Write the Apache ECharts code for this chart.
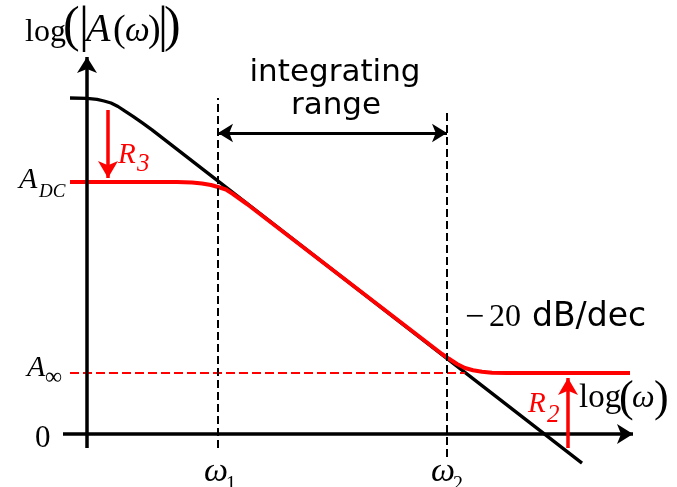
<!DOCTYPE html>
<html>
<head>
<meta charset="utf-8">
<script src="https://cdn.jsdelivr.net/npm/echarts@6/dist/echarts.min.js"></script>
<style>
  html, body { margin: 0; padding: 0; background: #fff; }
  #main { width: 677px; height: 487px; }
</style>
</head>
<body>
<div id="main"></div>
<script>
// levels and corner frequencies (chart units, log scale both ways)
const A_TOP = 336;
const A_DC = 252;
const A_INF = 61;
const W1 = 131;
const W2 = 360;

// black: original response, -20 dB/dec all the way down
const blackCurve = [
  [-17, 336], [0, 335.7], [10, 334.6], [17, 333], [24, 331], [31, 327.5],
  [38, 322.8], [46, 317.6], [55, 311.3], [65, 304.1], [495, -29.1]
];
// red: response with R3 / R2, flat at A_DC and A_INF
const redCurve = [
  [-17, 252], [90, 252], [105, 251.5], [115, 250.5], [124, 249], [131, 247],
  [139, 244.5], [146, 240], [153, 235], [160, 230], [355, 80], [362, 75.2],
  [370, 70], [378, 66], [386, 63.8], [395, 62.2], [405, 61.3], [420, 61], [543, 61]
];

const serif = '"Liberation Serif", "Times New Roman", serif';
const sans = '"DejaVu Sans", Verdana, sans-serif';

// text helper, b = baseline in px
function t(text, x, b, size, opts) {
  opts = opts || {};
  return {
    type: 'text',
    x: x,
    y: b - 0.3 * size,
    silent: true,
    style: {
      text: text,
      fontSize: size,
      fontFamily: opts.family || serif,
      fontStyle: opts.italic ? 'italic' : 'normal',
      fill: opts.color || '#000',
      textAlign: opts.align || 'left',
      textVerticalAlign: 'middle'
    }
  };
}

function seg(x1, y1, x2, y2, color, type, width, s1, s2, size) {
  size = size || [15, 16];
  return [
    { coord: [x1, y1], symbol: s1 || 'none', symbolSize: size },
    { coord: [x2, y2], symbol: s2 || 'none', symbolSize: size,
      lineStyle: { color: color, type: type, width: width } }
  ];
}

const red = '#ff0000';

const option = {
  animation: false,
  grid: { left: 63, right: 44, top: 57, bottom: 24 },
  xAxis: { type: 'value', min: -24, max: 546, show: false },
  yAxis: { type: 'value', min: -29, max: 377, show: false },
  series: [
    {
      type: 'line',
      data: blackCurve,
      showSymbol: false,
      lineStyle: { color: '#000', width: 3.3 },
      markLine: {
        silent: true,
        label: { show: false },
        symbol: ['none', 'none'],
        data: [
          seg(-17, A_INF, 378, A_INF, red, [9, 4], 2),
          seg(W1, -14, W1, A_TOP, '#000', [8, 4], 2),
          seg(W2, -23, W2, 324, '#000', [8, 4], 2),
          seg(-24, 0, 546, 0, '#000', 'solid', 3.5, 'none', 'arrow', [15, 16]),
          seg(0, -14, 0, 377, '#000', 'solid', 3.5, 'none', 'arrow', [15, 16]),
          seg(W1, 301, W2, 301, '#000', 'solid', 3, 'arrow', 'arrow', [14, 15]),
          seg(21, 324, 21, 256, red, 'solid', 3.5, 'none', 'arrow', [15, 17]),
          seg(481, -14, 481, 56, red, 'solid', 3.5, 'none', 'arrow', [15, 17])
        ]
      }
    },
    {
      type: 'line',
      data: redCurve,
      showSymbol: false,
      lineStyle: { color: red, width: 4 }
    }
  ],
  graphic: [
    // y axis title log(|A(ω)|)
    t('log', 25, 42, 32),
    t('(', 63, 43, 50),
    t('|', 79, 43, 50),
    t('A', 86, 42, 40, { italic: true }),
    t('(', 113, 42, 38),
    t('ω', 125, 42, 35, { italic: true }),
    t(')', 148, 42, 38),
    t('|', 158, 43, 50),
    t(')', 164, 43, 50),
    // levels
    t('A', 19, 189, 30, { italic: true }),
    t('DC', 39, 198, 19, { italic: true }),
    t('A', 27, 377, 30, { italic: true }),
    t('∞', 45, 385, 24),
    t('0', 35, 448, 31),
    // frequencies
    t('ω', 204, 482, 34, { italic: true }),
    t('1', 226, 491, 20),
    t('ω', 431, 482, 34, { italic: true }),
    t('2', 453, 491, 20),
    // x axis title
    t('log', 579, 408, 33),
    t('(', 619, 413, 44),
    t('ω', 632, 408, 32, { italic: true }),
    t(')', 654, 413, 44),
    // resistor labels
    t('R', 118, 164, 29, { italic: true, color: red }),
    t('3', 137, 172, 25, { italic: true, color: red }),
    t('R', 528, 413, 29, { italic: true, color: red }),
    t('2', 547, 423, 25, { italic: true, color: red }),
    // slope
    t('−', 465, 328, 34),
    t('20', 489, 327, 32),
    t('dB/dec', 532, 327, 33, { family: sans }),
    // integrating range
    t('integrating', 335, 82, 31, { family: sans, align: 'center' }),
    t('range', 336, 115, 31, { family: sans, align: 'center' })
  ]
};

const chart = echarts.init(document.getElementById('main'));
chart.setOption(option);
</script>
</body>
</html>
